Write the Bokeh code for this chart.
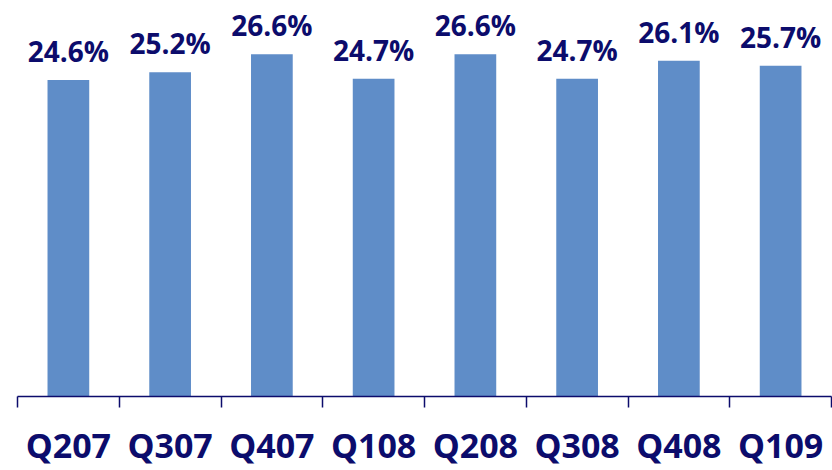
from bokeh.plotting import figure
from bokeh.models import Range1d, FixedTicker, ColumnDataSource
from bokeh.core.properties import value
from bokeh.embed import file_html
from bokeh.resources import INLINE

quarters = ["Q207", "Q307", "Q407", "Q108", "Q208", "Q308", "Q408", "Q109"]
values = [24.6, 25.2, 26.6, 24.7, 26.6, 24.7, 26.1, 25.7]
labels = [f"{v:.1f}%" for v in values]

BAR = "#5F8DC8"
NAVY = "#0C0C6C"
FONT = "Open Sans"

n = len(quarters)
xs = [i + 0.5 for i in range(n)]
src = ColumnDataSource(dict(x=xs, top=values, label=labels))

p = figure(width=832, height=470, output_backend="svg", toolbar_location=None,
           x_range=Range1d(0, n), y_range=Range1d(0, 30.78),
           min_border_left=17, min_border_right=1, min_border_top=0,
           min_border_bottom=72)
p.outline_line_color = None
p.grid.visible = False
p.yaxis.visible = False

p.vbar(x="x", top="top", width=0.41, bottom=0, source=src, color=BAR, line_color=None)
p.text(x="x", y="top", text="label", source=src, text_align="center",
       text_baseline="alphabetic", y_offset=-29, text_color=NAVY,
       text_font=value(FONT), text_font_style="bold", text_font_size="28px")

ax = p.xaxis[0]
ax.ticker = FixedTicker(ticks=xs, minor_ticks=list(range(n + 1)))
ax.major_label_overrides = {x: q for x, q in zip(xs, quarters)}
ax.major_tick_out = 0
ax.major_tick_in = 0
ax.minor_tick_out = 11
ax.minor_tick_in = 0
ax.minor_tick_line_color = NAVY
ax.minor_tick_line_width = 1.5
ax.axis_line_color = NAVY
ax.axis_line_width = 1.5
ax.major_label_text_font = FONT
ax.major_label_text_font_style = "bold"
ax.major_label_text_font_size = "34px"
ax.major_label_text_color = NAVY
ax.major_label_standoff = 14

open("out.html", "w").write(file_html(p, INLINE))
